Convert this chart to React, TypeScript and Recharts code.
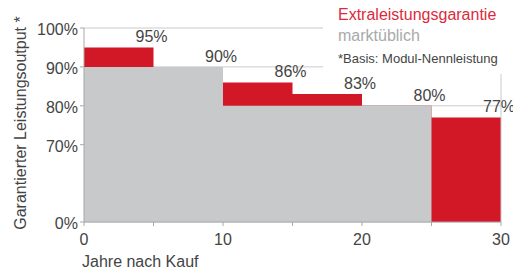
import React from 'react';
import {
  ComposedChart,
  Area,
  Line,
  XAxis,
  YAxis,
  CartesianGrid,
  ReferenceLine,
  LabelList,
  Label,
} from 'recharts';

// ---- data ----
const years = [0, 5, 10, 15, 20, 25, 30];
const extraGuarantee = [95, 90, 86, 83, 80, 77]; // per 5-year segment (0-30)
const marketStandard = [90, 90, 80, 80, 80]; // per 5-year segment (0-25)
const xTicks = [0, 5, 10, 15, 20, 25, 30];
const xLabeledTicks = [0, 10, 20, 30];
const yTicks = [0, 70, 75, 80, 85, 90, 95, 100];
const yLabeledTicks = [0, 70, 80, 90, 100];
const seriesNames = ['Extraleistungsgarantie', 'marktüblich'];
const footnote = '*Basis: Modul-Nennleistung';
const xTitle = 'Jahre nach Kauf';
const yTitle = 'Garantierter Leistungsoutput *';

// broken axis: 0..70 compressed
const BREAK = 70;
const COMPRESS = 0.284;
const tf = (v: number) => (v >= BREAK ? v : BREAK - (BREAK - v) * COMPRESS);
const inv = (v: number) => (v >= BREAK ? v : BREAK - (BREAK - v) / COMPRESS);

const data = years.map((year, i) => {
  const g = extraGuarantee[Math.min(i, extraGuarantee.length - 1)];
  const m =
    i < marketStandard.length
      ? marketStandard[i]
      : i === marketStandard.length
      ? marketStandard[marketStandard.length - 1]
      : null;
  const prev = i > 0 ? extraGuarantee[i - 1] : null;
  return {
    year,
    red: tf(g),
    gray: m == null ? null : tf(m),
    labelPos: prev == null ? null : tf(prev),
    labelVal: prev,
  };
});

const RED = '#d21726';
const LEGEND_RED = '#dc2a3c';
const GRAY = '#c8c9cb';
const TEXT = '#444444';
const GRID = '#cacaca';
const AXIS = '#a8a8a8';
const FONT = '"Liberation Sans", Arial, sans-serif';

const YTick = (props: any) => {
  const { x, y, payload } = props;
  const real = Math.round(inv(payload.value));
  if (!yLabeledTicks.includes(real)) return null;
  return (
    <g>
      <line x1={x + 2} x2={x + 6} y1={y} y2={y} stroke={AXIS} />
      <text x={x} y={y} dy={7} textAnchor="end" fill={TEXT} fontSize={16} fontFamily={FONT}>
        {real}%
      </text>
    </g>
  );
};

export default function App() {
  return (
    <div style={{ position: 'absolute', left: 0, top: 0, width: 513, height: 269, fontFamily: FONT }}>
      <ComposedChart
        width={513}
        height={269}
        data={data}
        margin={{ top: 28, right: 12, bottom: 0, left: 0 }}
      >
        <CartesianGrid horizontal vertical={false} stroke={GRID} />
        <XAxis
          dataKey="year"
          type="number"
          domain={[0, 30]}
          ticks={xTicks}
          height={47}
          tickSize={4}
          tickMargin={8}
          stroke={AXIS}
          tick={{ fill: TEXT, fontSize: 16, fontFamily: FONT }}
          tickFormatter={(v: number) => (xLabeledTicks.includes(v) ? String(v) : '')}
        >
          <Label
            content={(p: any) => {
              const vb = p.viewBox;
              return (
                <text
                  x={vb.x - 2}
                  y={vb.y + vb.height - 2}
                  fill={TEXT}
                  fontSize={16}
                  fontFamily={FONT}
                >
                  {xTitle}
                </text>
              );
            }}
          />
        </XAxis>
        <YAxis
          type="number"
          domain={[tf(0), 100]}
          ticks={yTicks.map(tf)}
          width={84}
          tickSize={4}
          tickMargin={2}
          tickLine={false}
          stroke={AXIS}
          tick={<YTick />}
          allowDataOverflow
        >
          <Label
            content={(p: any) => {
              const vb = p.viewBox;
              const cx = vb.x + 20;
              const cy = vb.y + vb.height / 2 - 2;
              return (
                <text
                  x={cx}
                  y={cy}
                  transform={`rotate(-90 ${cx} ${cy})`}
                  textAnchor="middle"
                  dominantBaseline="central"
                  fill={TEXT}
                  fontSize={16}
                  fontFamily={FONT}
                >
                  {yTitle}
                </text>
              );
            }}
          />
        </YAxis>
        <Area
          type="stepAfter"
          dataKey="red"
          name={seriesNames[0]}
          fill={RED}
          fillOpacity={1}
          stroke="none"
          baseValue={tf(0)}
          isAnimationActive={false}
          dot={false}
          activeDot={false}
        />
        <Area
          type="stepAfter"
          dataKey="gray"
          name={seriesNames[1]}
          fill={GRAY}
          fillOpacity={1}
          stroke="none"
          baseValue={tf(0)}
          isAnimationActive={false}
          dot={false}
          activeDot={false}
        />
        <ReferenceLine x={30} stroke={GRID} />
        <Line
          dataKey="labelPos"
          stroke="none"
          dot={false}
          activeDot={false}
          isAnimationActive={false}
          legendType="none"
        >
          <LabelList
            dataKey="labelVal"
            position="top"
            offset={5}
            dx={-2}
            fill={TEXT}
            fontSize={16}
            fontFamily={FONT}
            formatter={(v: any) => (v == null ? '' : `${v}%`)}
          />
        </Line>
      </ComposedChart>
      <div
        style={{
          position: 'absolute',
          left: 323,
          top: 0,
          width: 190,
          height: 74,
          background: '#ffffff',
        }}
      >
        <div style={{ position: 'absolute', left: 15, top: 7, fontSize: 16, lineHeight: '16px', color: LEGEND_RED, whiteSpace: 'nowrap' }}>
          {seriesNames[0]}
        </div>
        <div style={{ position: 'absolute', left: 15, top: 28, fontSize: 16, lineHeight: '16px', color: '#a9a9a9', whiteSpace: 'nowrap' }}>
          {seriesNames[1]}
        </div>
        <div style={{ position: 'absolute', left: 15, top: 52, fontSize: 13, lineHeight: '13px', color: TEXT, whiteSpace: 'nowrap' }}>
          {footnote}
        </div>
      </div>
    </div>
  );
}
